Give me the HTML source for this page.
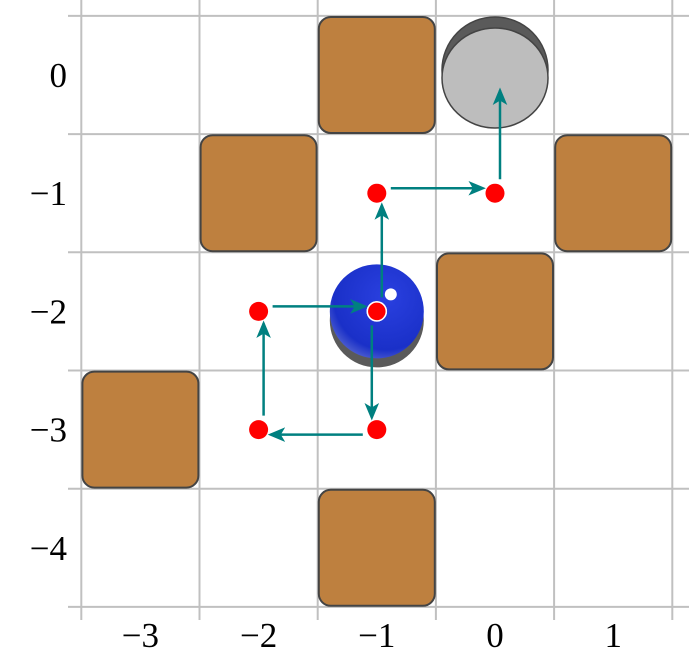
<!DOCTYPE html>
<html><head><meta charset="utf-8"><style>body{margin:0;background:#fff}svg{display:block}text{font-family:"Liberation Serif",serif;font-size:35px;fill:#000}</style></head>
<body>
<svg id="c" width="689" height="666">
<defs>
<radialGradient id="bg" cx="0.6" cy="0.35" r="0.7"><stop offset="0" stop-color="#2a40e0"/><stop offset="0.8" stop-color="#1a30c8"/><stop offset="1" stop-color="#5060d0"/></radialGradient>
<marker id="ah" viewBox="0 0 12 10" refX="10" refY="5" markerWidth="7" markerHeight="6" orient="auto"><path d="M0,0 L12,5 L0,10 L3,5 Z" fill="#008080"/></marker>
</defs>
</svg>
<script>
const xTicks=[-3,-2,-1,0,1];
const yTicks=[0,-1,-2,-3,-4];
const blocksX=[-1,-2,1,0,-3,-1];
const blocksY=[0,-1,-1,-2,-3,-4];
const pathX=[-1,-1,-2,-2,-1,-1,0,0];
const pathY=[-2,-3,-3,-2,-2,-1,-1,0];
const ball=[-1,-2];
const hole=[0,0];
const C=118.2;
const sx=v=>495+v*C, sy=v=>75-v*C;
const svg=document.getElementById('c');
const NS='http://www.w3.org/2000/svg';
function mk(t,a,p){const e=document.createElementNS(NS,t);for(const k in a)e.setAttribute(k,a[k]);(p||svg).appendChild(e);return e;}
for(let i=0;i<=5;i++){const x=sx(-3.5+i);const g=mk('line',{x1:x,y1:0,x2:x,y2:620,stroke:'#c0c0c0','stroke-width':2});

}
for(let i=0;i<=5;i++){const y=sy(0.5-i);const g=mk('line',{x1:68,y1:y,x2:689,y2:y,stroke:'#c0c0c0','stroke-width':2});

}
xTicks.forEach(v=>{const t=mk('text',{x:sx(v),y:647,'text-anchor':'middle'});t.textContent=(v<0?'\u2212'+(-v):v);

});
yTicks.forEach(v=>{const t=mk('text',{x:67,y:sy(v)+12,'text-anchor':'end'});t.textContent=(v<0?'\u2212'+(-v):v);

});
blocksX.forEach((bx,i)=>{const r=mk('rect',{x:sx(bx)-58,y:sy(blocksY[i])-58,width:116,height:116,rx:12,fill:'#be803f',stroke:'#444','stroke-width':2});

});
const hx=sx(hole[0]),hy=sy(hole[1]);
const h1=mk('circle',{cx:hx,cy:hy-5,r:53,fill:'#5a5a5a',stroke:'#444','stroke-width':1.5});


const h2=mk('ellipse',{cx:hx,cy:hy+3,rx:53,ry:50,fill:'#bdbdbd',stroke:'#444','stroke-width':1.5});


const bx=sx(ball[0]),by=sy(ball[1]);
const b1=mk('circle',{cx:bx,cy:by+9,r:47,fill:'#5a5a5a'});


const b2=mk('circle',{cx:bx,cy:by,r:47,fill:'url(#bg)'});


const b3=mk('circle',{cx:bx+14,cy:by-17,r:6,fill:'#fff'});


for(let i=0;i<pathX.length-1;i++){
 const x1=sx(pathX[i]),y1=sy(pathY[i]),x2=sx(pathX[i+1]),y2=sy(pathY[i+1]);
 const dx=Math.sign(x2-x1),dy=Math.sign(y2-y1);
 const ox=-dy*5,oy=-dx*5;
 const end=(i===pathX.length-2)?0.13*C:12;
 const a=mk('line',{x1:x1+dx*14+ox,y1:y1+dy*14+oy,x2:x2-dx*end+ox,y2:y2-dy*end+oy,stroke:'#008080','stroke-width':2.5,'marker-end':'url(#ah)'});
 
 
}
for(let i=0;i<pathX.length-1;i++){
 const d=mk('circle',{cx:sx(pathX[i]),cy:sy(pathY[i]),r:9.5,fill:'#f00',stroke:(i===0||i===4)?'#fff':'none','stroke-width':1.5});
 
 
}
</script>
</body></html>
